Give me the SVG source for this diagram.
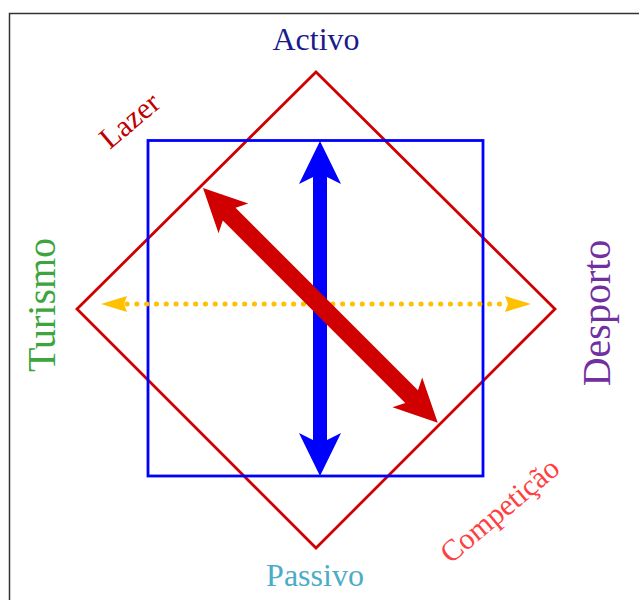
<svg xmlns="http://www.w3.org/2000/svg" width="639" height="600" viewBox="0 0 639 600">
<style>
text{font-family:"Liberation Serif","Times New Roman",serif;text-anchor:middle}
.lbl{font-size:32px}
.sm{font-size:30px}
.big{font-size:40px}
</style>
<rect width="639" height="600" fill="#fff"/>
<path d="M9.5,600 V13.5 H639" fill="none" stroke="#333" stroke-width="1.5"/>
<g id="diamond"><polygon points="316,72 555,309 316,548 77,309" fill="none" stroke="#d00000" stroke-width="2.8"/></g>
<g id="square"><rect x="148" y="140.5" width="335" height="335.5" fill="none" stroke="#0000ff" stroke-width="2.8"/></g>
<g id="connectors">
<line x1="127" y1="304" x2="505" y2="304" stroke="#ffc000" stroke-width="5" stroke-linecap="round" stroke-dasharray="0.1 9.7"/>
<polygon points="101,304 127,296 124,304 127,312" fill="#ffc000"/>
<polygon points="531,304 505,296 508,304 505,312" fill="#ffc000"/>
<polygon points="320,141 341,184 327,177 327,440 341,433 320,476 299,433 313,440 313,177 299,184" fill="#0000ff"/>
<polygon transform="translate(203,188) rotate(45)" points="0,0 43,-21 37,-9 295,-9 289,-21 332,0 289,21 295,9 37,9 43,21" fill="#d00000"/>
</g>
<g id="activo"><text class="lbl" x="316" y="50" fill="#1a1a8c">Activo</text></g>
<g id="passivo"><text class="lbl" x="315" y="586" fill="#4bacc6">Passivo</text></g>
<g id="lazer"><text class="sm" transform="translate(136,128) rotate(-40)" fill="#c00000">Lazer</text></g>
<g id="competicao"><text class="sm" transform="translate(506,518) rotate(-40)" fill="#ff4040">Competição</text></g>
<g id="turismo"><text class="big" transform="translate(55,305) rotate(-90)" fill="#3da53d">Turismo</text></g>
<g id="desporto"><text class="big" transform="translate(610,313) rotate(-90)" fill="#7030a0">Desporto</text></g>
</svg>
